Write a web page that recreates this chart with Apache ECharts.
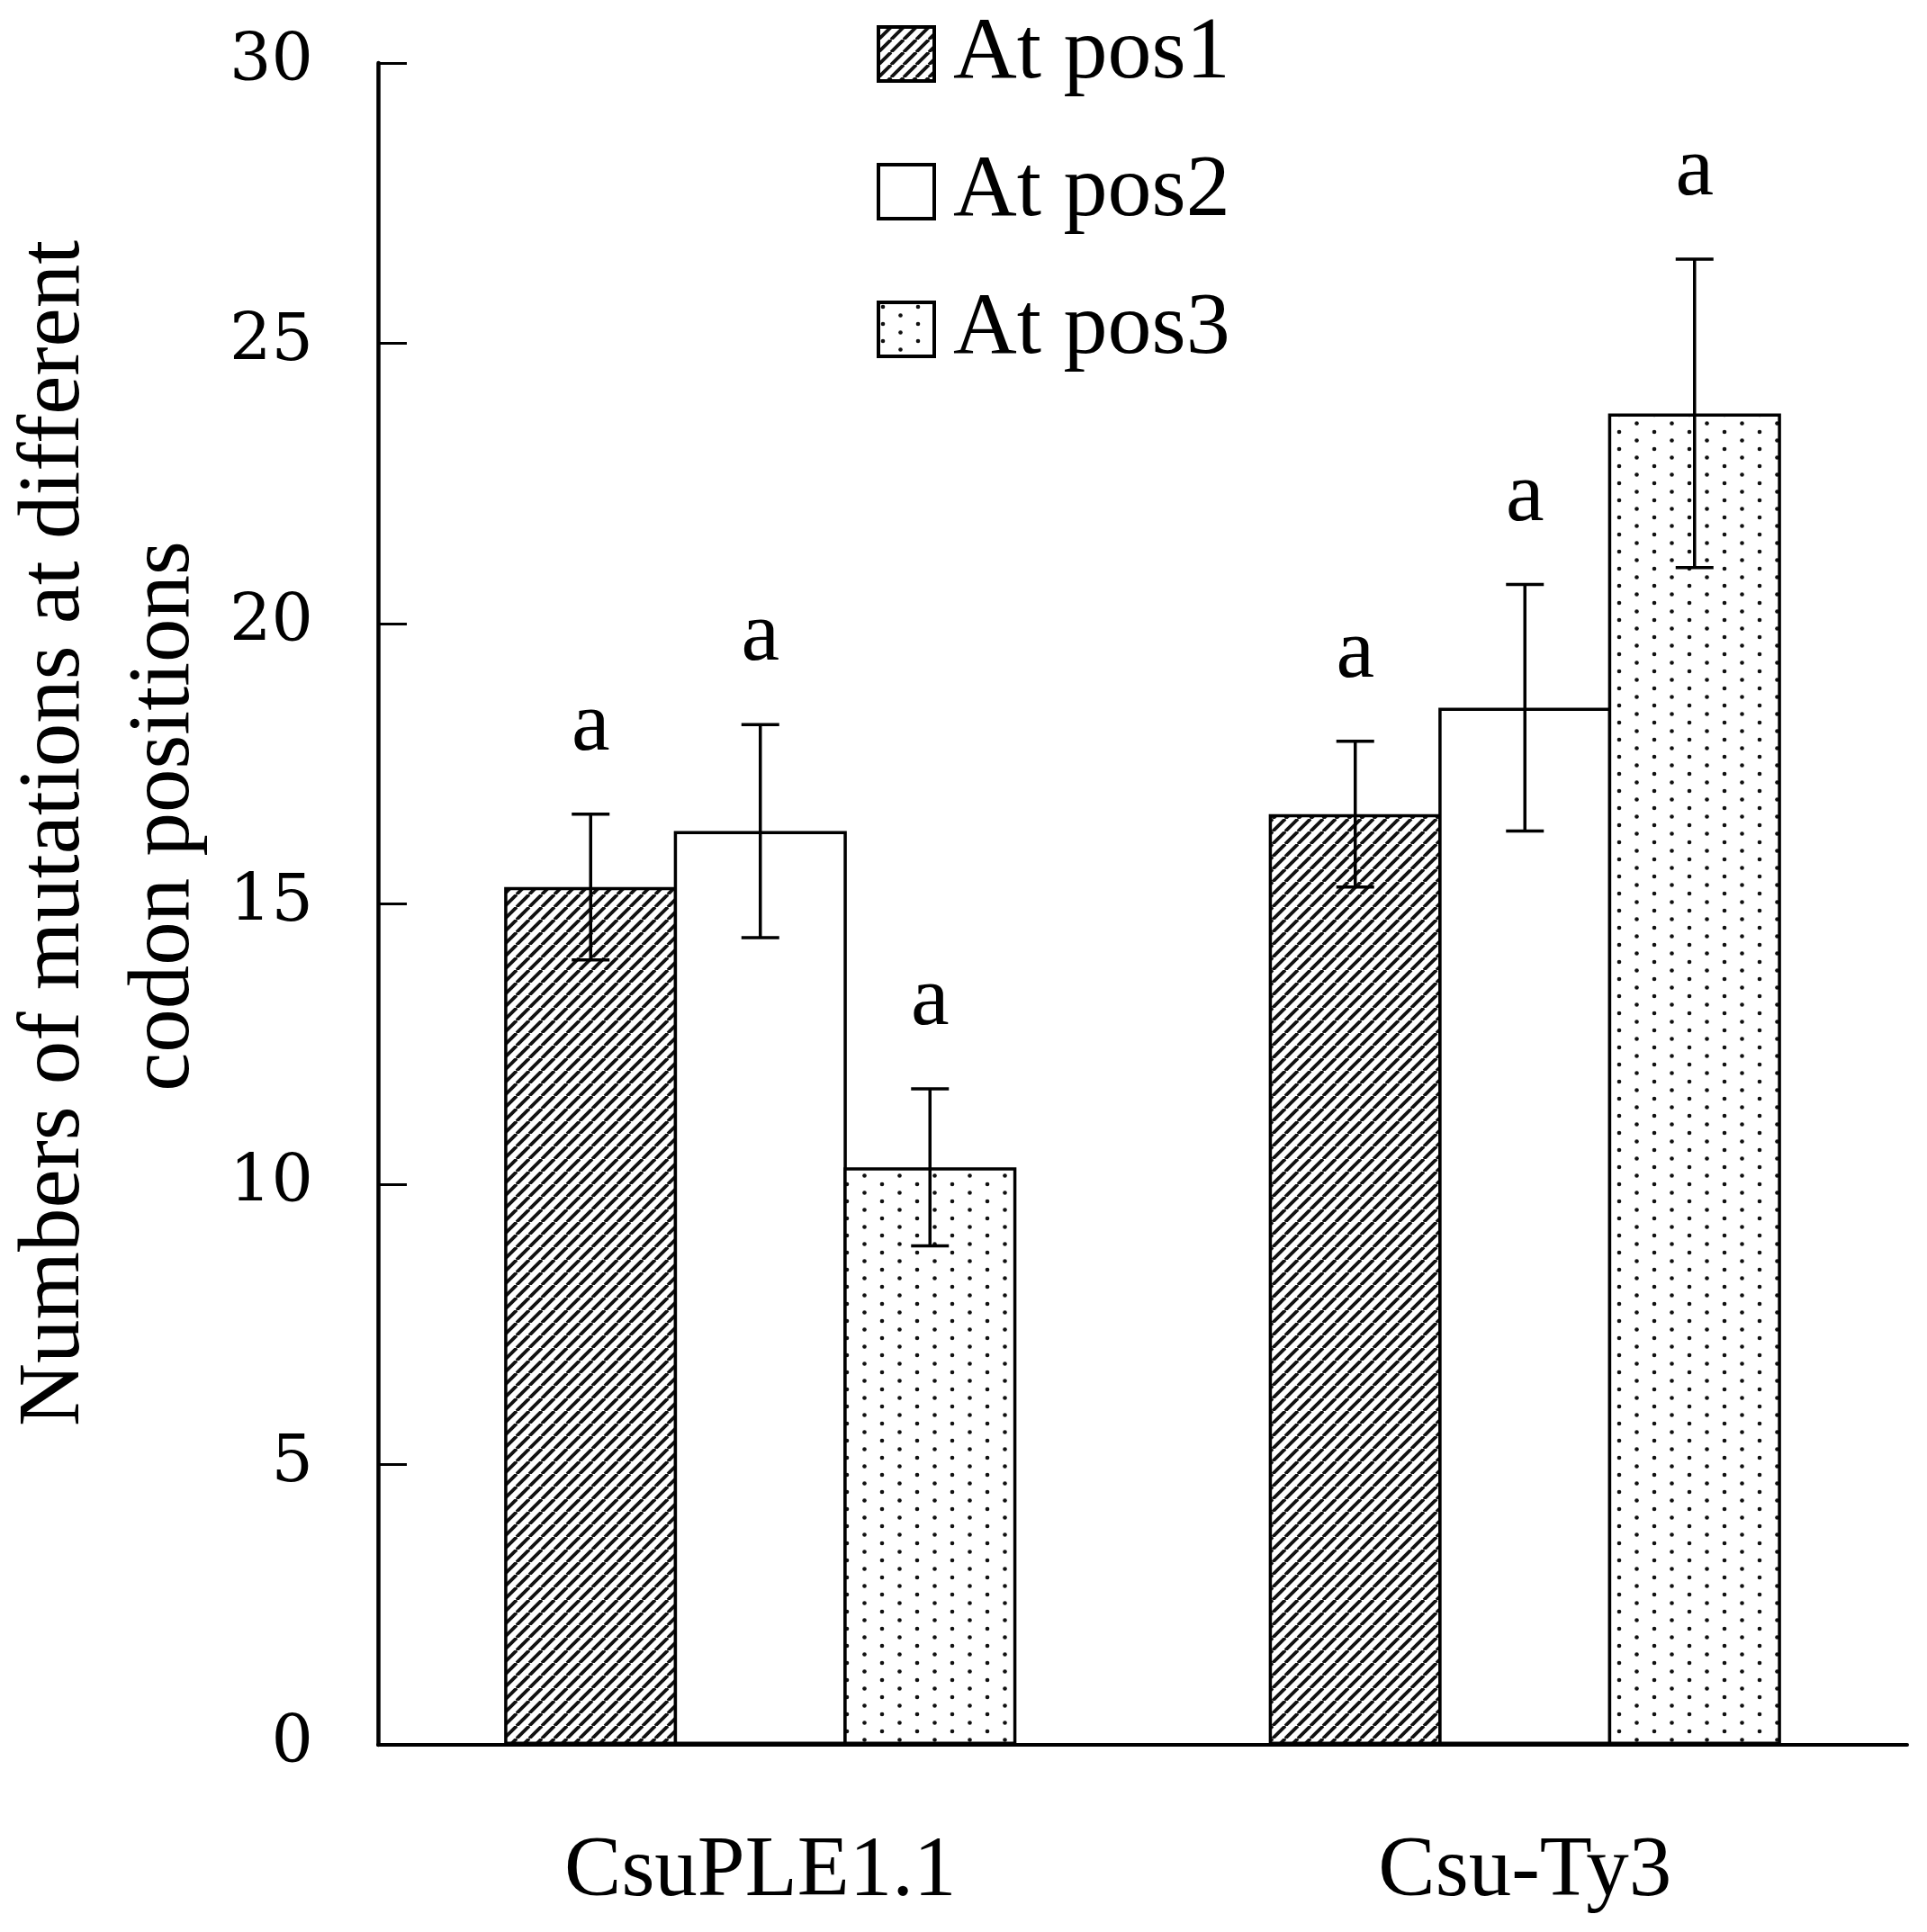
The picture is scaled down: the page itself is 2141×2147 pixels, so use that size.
<!DOCTYPE html>
<html>
<head>
<meta charset="utf-8">
<script src="https://cdn.jsdelivr.net/npm/echarts@6/dist/echarts.min.js"></script>
<style>
html,body{margin:0;padding:0;background:#fff;}
#chart{width:2141px;height:2147px;}
</style>
</head>
<body>
<div id="chart"></div>
<script>
// ---- data ----
const categories = ['CsuPLE1.1', 'Csu-Ty3'];
const seriesNames = ['At pos1', 'At pos2', 'At pos3'];
const pos1Values = [15.3, 16.6];
const pos1Errors = [1.3, 1.3];
const pos2Values = [16.3, 18.5];
const pos2Errors = [1.9, 2.2];
const pos3Values = [10.3, 23.75];
const pos3Errors = [1.4, 2.75];
const pos1Letters = ['a', 'a'];
const pos2Letters = ['a', 'a'];
const pos3Letters = ['a', 'a'];
const yTicks = [0, 5, 10, 15, 20, 25, 30];
const yTitleLines = ['Numbers of mutations at different', 'codon positions'];

// ---- patterns ----
function hatchPattern() {
  const p = 14;
  const c = document.createElement('canvas');
  c.width = p; c.height = p;
  const g = c.getContext('2d');
  g.fillStyle = '#fff'; g.fillRect(0, 0, p, p);
  g.strokeStyle = '#111'; g.lineWidth = 3.8;
  for (let k = -1; k <= 1; k++) {
    g.beginPath();
    g.moveTo(k * p, p);
    g.lineTo(k * p + p, 0);
    g.stroke();
  }
  return c;
}
function dotPattern() {
  const w = 39, h = 19;
  const c = document.createElement('canvas');
  c.width = w; c.height = h;
  const g = c.getContext('2d');
  g.fillStyle = '#fff'; g.fillRect(0, 0, w, h);
  g.fillStyle = '#111';
  [[5, 5], [24.5, 14.5]].forEach(function (d) {
    g.beginPath(); g.arc(d[0], d[1], 2.3, 0, Math.PI * 2); g.fill();
  });
  return c;
}
const fills = [
  { image: hatchPattern(), repeat: 'repeat' },
  '#ffffff',
  { image: dotPattern(), repeat: 'repeat' }
];

const values = [pos1Values, pos2Values, pos3Values];
const errors = [pos1Errors, pos2Errors, pos3Errors];
const letters = [pos1Letters, pos2Letters, pos3Letters];

const CAT_GAP = 0.33;
const BAR_GAP = -0.019;
const barSeries = seriesNames.map(function (name, s) {
  return {
    name: name,
    type: 'bar',
    barGap: (BAR_GAP * 100) + '%',
    barCategoryGap: (CAT_GAP * 100) + '%',
    data: values[s],
    itemStyle: { color: fills[s], borderColor: '#000', borderWidth: 3.5 },
    z: 2
  };
});

const errSeries = seriesNames.map(function (name, s) {
  return {
    name: name + ' err',
    type: 'custom',
    silent: true,
    z: 5,
    data: values[s].map(function (v, i) { return [i, v, errors[s][i]]; }),
    renderItem: function (params, api) {
      const ci = api.value(0), v = api.value(1), e = api.value(2);
      const band = api.size([1, 0])[0];
      const bw = band * (1 - CAT_GAP) / (3 + 2 * BAR_GAP);
      const center = api.coord([ci, v]);
      const x = center[0] + (s - 1) * bw * (1 + BAR_GAP);
      const top = api.coord([ci, v + e])[1];
      const bot = api.coord([ci, v - e])[1];
      const cap = 21;
      const ls = { stroke: '#000', lineWidth: 3.5 };
      return {
        type: 'group',
        children: [
          { type: 'line', shape: { x1: x, y1: top, x2: x, y2: bot }, style: ls },
          { type: 'line', shape: { x1: x - cap, y1: top, x2: x + cap, y2: top }, style: ls },
          { type: 'line', shape: { x1: x - cap, y1: bot, x2: x + cap, y2: bot }, style: ls },
          { type: 'text', style: {
              text: letters[s][params.dataIndex], x: x, y: top - 97,
              textAlign: 'center', textVerticalAlign: 'middle',
              font: '96px "Liberation Serif", "Times New Roman", serif', fill: '#000' } }
        ]
      };
    }
  };
});

const chart = echarts.init(document.getElementById('chart'), null, { renderer: 'canvas' });
chart.setOption({
  backgroundColor: '#fff',
  animation: false,
  grid: { left: 420, right: 22, top: 70, bottom: 208, containLabel: false },
  legend: {
    data: seriesNames,
    orient: 'vertical',
    left: 969, top: 6,
    itemWidth: 62, itemHeight: 60, itemGap: 55,
    icon: 'rect',
    selectedMode: false,
    itemStyle: { borderColor: '#000', borderWidth: 4 },
    textStyle: { fontFamily: '"Liberation Serif", "Times New Roman", serif', fontSize: 98, color: '#000', padding: [0, 0, 24, 16] }
  },
  xAxis: {
    type: 'category',
    data: categories,
    boundaryGap: true,
    axisLine: { lineStyle: { color: '#000', width: 4 } },
    axisTick: { inside: true, length: 32, lineStyle: { color: '#000', width: 3 }, alignWithLabel: false },
    axisLabel: { margin: 95, fontFamily: '"Liberation Serif", "Times New Roman", serif', fontSize: 95, color: '#000' },
    splitLine: { show: false }
  },
  yAxis: {
    type: 'value',
    min: yTicks[0], max: yTicks[yTicks.length - 1], interval: yTicks[1] - yTicks[0],
    axisLine: { show: true, lineStyle: { color: '#000', width: 4.5 } },
    axisTick: { show: true, inside: true, length: 32, lineStyle: { color: '#000', width: 3 } },
    axisLabel: { margin: 72, fontFamily: '"DejaVu Serif", serif', fontSize: 73, color: '#000' },
    splitLine: { show: false }
  },
  graphic: [
    { type: 'text', x: 62, y: 926, rotation: Math.PI / 2,
      style: { text: yTitleLines[0], textAlign: 'center', textVerticalAlign: 'middle',
        font: '97px "Liberation Serif", "Times New Roman", serif', fill: '#000' } },
    { type: 'text', x: 184, y: 907, rotation: Math.PI / 2,
      style: { text: yTitleLines[1], textAlign: 'center', textVerticalAlign: 'middle',
        font: '97px "Liberation Serif", "Times New Roman", serif', fill: '#000' } }
  ],
  series: barSeries.concat(errSeries)
});
</script>
</body>
</html>
